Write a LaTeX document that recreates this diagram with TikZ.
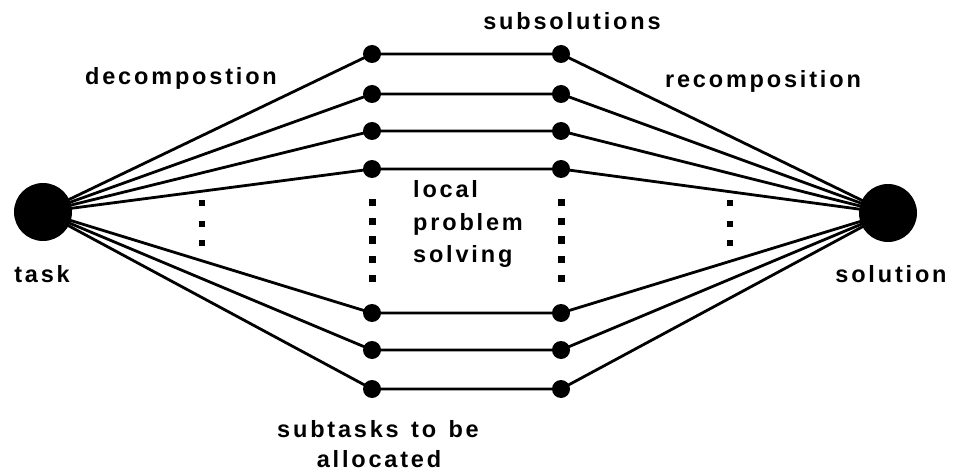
\documentclass[tikz,border=0pt]{standalone}
\usepackage{fontspec}
\setmainfont{Liberation Sans}[LetterSpace=12]
\begin{document}
\begin{tikzpicture}[x=1pt,y=-1pt,
  conn/.style={line width=2.8pt},
  bigdot/.style={circle,fill=black,inner sep=0pt,minimum size=58pt},
  smalldot/.style={circle,fill=black,inner sep=0pt,minimum size=18pt},
  sq/.style={fill=black,inner sep=0pt,minimum size=7pt},
  tinysq/.style={fill=black,inner sep=0pt,minimum size=6pt},
  lbl/.style={inner sep=0pt,font=\fontsize{23.5}{26}\selectfont\bfseries}]
\useasboundingbox (0,0) rectangle (953,473);
% main nodes
\coordinate (task) at (43,212);
\coordinate (sol) at (888,213);
\foreach \i/\y in {1/54,2/94,3/131,4/169,5/313,6/350,7/389}{
  \coordinate (L\i) at (372,\y);
  \coordinate (R\i) at (561,\y);
}
\foreach \i in {1,...,7}{
  \draw[conn] (task) -- (L\i) -- (R\i) -- (sol);
}
\node[bigdot] (taskc) at (task) {};
\node[bigdot] (solc) at (sol) {};
\foreach \i in {1,...,7}{
  \node[smalldot] (Ld\i) at (L\i) {};
  \node[smalldot] (Rd\i) at (R\i) {};
}
% dotted columns
\foreach \y [count=\k] in {203,222,240,259,278}{
  \node[sq] (lsq\k) at (372,\y) {};
  \node[sq] (rsq\k) at (561,\y) {};
}
\foreach \y [count=\k] in {203,224,243}{
  \node[tinysq] (ltq\k) at (202,\y) {};
  \node[tinysq] (rtq\k) at (730,\y) {};
}
% labels
\node[lbl,anchor=base] (tdec) at (181,85) {decompostion};
\node[lbl,anchor=base] (tsubs) at (572,30) {subsolutions};
\node[lbl,anchor=base] (trec) at (763,88) {recomposition};
\node[lbl,anchor=base] (ttask) at (42,282) {task};
\node[lbl,anchor=base] (tsol) at (891,282) {solution};
\node[lbl,anchor=base west] (tloc1) at (413,198) {local};
\node[lbl,anchor=base west] (tloc2) at (413,230) {problem};
\node[lbl,anchor=base west] (tloc3) at (413,262) {solving};
\node[lbl,anchor=base] (tsub1) at (378,437) {subtasks\hspace{3pt} to\hspace{3pt} be};
\node[lbl,anchor=base] (tsub2) at (379,467) {allocated};
\end{tikzpicture}
\end{document}
